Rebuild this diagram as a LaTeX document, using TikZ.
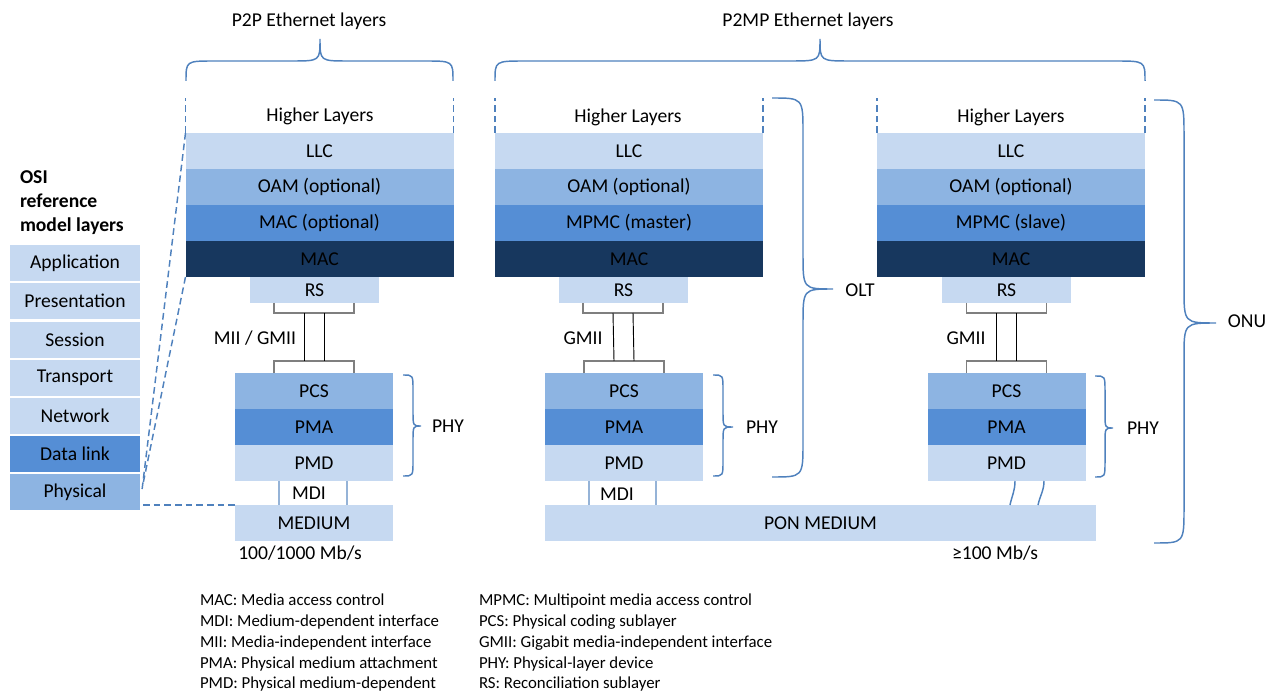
\documentclass[tikz,border=0pt]{standalone}
\usepackage{fontspec}
\setmainfont{Carlito}
\usetikzlibrary{calc}
\definecolor{lay1}{HTML}{C6D9F1}
\definecolor{lay2}{HTML}{8DB4E2}
\definecolor{lay3}{HTML}{558ED5}
\definecolor{lay4}{HTML}{17375E}
\definecolor{brc}{HTML}{4F81BD}
\definecolor{wir}{HTML}{7F7F7F}
\definecolor{mdiblue}{HTML}{95B3D7}
\tikzset{
  lay/.style={rectangle, inner sep=0pt, outer sep=0pt, minimum width=#1*0.75pt, minimum height=27pt},
  osi/.style={lay=132, minimum height=28.5pt, draw=white, line width=1pt},
  txt/.style={inner sep=0pt, outer sep=0pt},
  legend/.style={txt, anchor=north west, align=left, font=\fontsize{12.6}{15.6}\selectfont},
  brace/.style={draw=brc, line width=1.1pt},
  hdash/.style={draw=brc, line width=1.1pt, dash pattern=on 5pt off 3pt},
  wire/.style={draw=wir, line width=0.8pt},
  bus/.style={draw=black, line width=0.7pt},
  mdi/.style={draw=mdiblue, line width=1.4pt},
}
\begin{document}
\begin{tikzpicture}[x=0.75pt, y=-0.75pt, font=\fontsize{14.7}{18}\selectfont]
  \useasboundingbox (0,0) rectangle (1273,691);

  % OSI reference model
  \node[txt, anchor=north west, align=left, font=\fontsize{14.7}{18}\selectfont\bfseries] (osiT) at (20,171) {OSI\\reference\\model layers};
  \node[osi, fill=lay1] (osi1) at (75,263) {Application};
  \node[osi, fill=lay1] (osi2) at (75,301) {Presentation};
  \node[osi, fill=lay1] (osi3) at (75,340) {Session};
  \node[osi, fill=lay1] (osi4) at (75,378) {Transport};
  \node[osi, fill=lay1] (osi5) at (75,416) {Network};
  \node[osi, fill=lay3] (osi6) at (75,454) {Data link};
  \node[osi, fill=lay2] (osi7) at (75,492) {Physical};

  % P2P stack
  \node[txt] (topA) at (309,21) {P2P Ethernet layers};
  \node[txt] (hlA) at (320,116) {Higher Layers};
  \node[lay=268, fill=lay1] (llcA) at (319.5,151) {LLC};
  \node[lay=268, fill=lay2] (oamA) at (319.5,187) {OAM (optional)};
  \node[lay=268, fill=lay3] (mcoA) at (319.5,223) {MAC (optional)};
  \node[lay=268, fill=lay4] (macA) at (319.5,259) {MAC};
  \node[lay=129, fill=lay1, minimum height=19.5pt] (rsA) at (314.5,290) {RS};
  \node[txt] (giA) at (255,338) {MII / GMII};
  \node[lay=158, fill=lay2] (pcsA) at (314,391) {PCS};
  \node[lay=158, fill=lay3] (pmaA) at (314,427) {PMA};
  \node[lay=158, fill=lay1] (pmdA) at (314,463) {PMD};
  \node[txt] (phyA) at (448,426) {PHY};
  \node[txt] (mdiA) at (309,493) {MDI};
  \node[lay=158, fill=lay1] (medA) at (314,523) {MEDIUM};
  \node[txt] (rateA) at (300,553) {100/1000 Mb/s};

  % P2MP: OLT stack
  \node[txt] (topB) at (808,21) {P2MP Ethernet layers};
  \node[txt] (hlB) at (628,117) {Higher Layers};
  \node[lay=268, fill=lay1] (llcB) at (629,151) {LLC};
  \node[lay=268, fill=lay2] (oamB) at (629,187) {OAM (optional)};
  \node[lay=268, fill=lay3] (mpcB) at (629,223) {MPMC (master)};
  \node[lay=268, fill=lay4] (macB) at (629,259) {MAC};
  \node[lay=129, fill=lay1, minimum height=19.5pt] (rsB) at (623.5,290) {RS};
  \node[txt] (giB) at (583,338) {GMII};
  \node[lay=158, fill=lay2] (pcsB) at (624,391) {PCS};
  \node[lay=158, fill=lay3] (pmaB) at (624,427) {PMA};
  \node[lay=158, fill=lay1] (pmdB) at (624,463) {PMD};
  \node[txt] (phyB) at (762,427) {PHY};
  \node[txt] (mdiB) at (617,494) {MDI};
  \node[txt] (olt) at (860,290) {OLT};

  % P2MP: ONU stack
  \node[txt] (hlC) at (1011,117) {Higher Layers};
  \node[lay=268, fill=lay1] (llcC) at (1011,151) {LLC};
  \node[lay=268, fill=lay2] (oamC) at (1011,187) {OAM (optional)};
  \node[lay=268, fill=lay3] (mpcC) at (1011,223) {MPMC (slave)};
  \node[lay=268, fill=lay4] (macC) at (1011,259) {MAC};
  \node[lay=129, fill=lay1, minimum height=19.5pt] (rsC) at (1006.5,290) {RS};
  \node[txt] (giC) at (966,338) {GMII};
  \node[lay=158, fill=lay2] (pcsC) at (1006.5,391) {PCS};
  \node[lay=158, fill=lay3] (pmaC) at (1006.5,427) {PMA};
  \node[lay=158, fill=lay1] (pmdC) at (1006.5,463) {PMD};
  \node[txt] (phyC) at (1143,428) {PHY};
  \node[txt] (onu) at (1247,321) {ONU};

  \node[lay=551, fill=lay1] (pon) at (820.5,523) {PON MEDIUM};
  \node[txt] (rateB) at (995,553) {≥100 Mb/s};

  % legend
  \node[legend] (legL) at (200,594)
    {MAC: Media access control\\MDI: Medium-dependent interface\\MII: Media-independent interface\\PMA: Physical medium attachment\\PMD: Physical medium-dependent};
  \node[legend] (legR) at (479,594)
    {MPMC: Multipoint media access control\\PCS: Physical coding sublayer\\GMII: Gigabit media-independent interface\\PHY: Physical-layer device\\RS: Reconciliation sublayer};

  % higher layers
  \draw[hdash] (llcA.north west) -- ++(0,-35);
  \draw[hdash] (llcA.north east) -- ++(0,-35);
  \draw[hdash] (llcB.north west) -- ++(0,-35);
  \draw[hdash] (llcB.north east) -- ++(0,-35);
  \draw[hdash] (llcC.north west) -- ++(0,-35);
  \draw[hdash] (llcC.north east) -- ++(0,-35);

  % OSI mapping
  \draw[hdash] (llcA.north west) -- ($(osi7.north east)+(1,17)$);
  \draw[hdash] (macA.south west) -- ($(osi7.north east)+(2,11)$);
  \draw[hdash] ($(osi7.east |- medA.north)+(2,0)$) -- (medA.north west);

  % MII / GMII
  \draw[wire] ($(rsA.south)+(-40.5,0)$) -- ++(0,10) -- ++(80,0) -- ++(0,-10);
  \draw[wire] ($(pcsA.north)+(-40,0)$) -- ++(0,-12) -- ++(80,0) -- ++(0,12);
  \draw[bus] ($(rsA.south)+(-10.5,10)$) -- ($(pcsA.north)+(-10,-12)$);
  \draw[bus] ($(rsA.south)+(9.5,10)$) -- ($(pcsA.north)+(10,-12)$);
  \draw[wire] ($(rsB.south)+(-40.5,0)$) -- ++(0,10) -- ++(80,0) -- ++(0,-10);
  \draw[wire] ($(pcsB.north)+(-40,0)$) -- ++(0,-12) -- ++(80,0) -- ++(0,12);
  \draw[bus] ($(rsB.south)+(-10.5,10)$) -- ($(pcsB.north)+(-10,-12)$);
  \draw[bus] ($(rsB.south)+(9.5,10)$) -- ($(pcsB.north)+(10,-12)$);
  \draw[wire] ($(rsC.south)+(-40,0)$) -- ++(0,10) -- ++(80,0) -- ++(0,-10);
  \draw[wire] ($(pcsC.north)+(-40,0)$) -- ++(0,-12) -- ++(80,0) -- ++(0,12);
  \draw[bus] ($(rsC.south)+(-10,10)$) -- ($(pcsC.north)+(-10,-12)$);
  \draw[bus] ($(rsC.south)+(10,10)$) -- ($(pcsC.north)+(10,-12)$);

  % MDI
  \draw[mdi] ($(pmdA.south)+(-35,0)$) -- ($(pmdA.south |- medA.north)+(-35,0)$);
  \draw[mdi] ($(pmdA.south)+(33,0)$) -- ($(pmdA.south |- medA.north)+(33,0)$);
  \draw[mdi] ($(pmdB.south)+(-35,0)$) -- ($(pmdB.south |- pon.north)+(-35,0)$);
  \draw[mdi] ($(pmdB.south)+(32,0)$) -- ($(pmdB.south |- pon.north)+(32,0)$);
  \draw[brace] ($(pmdC.south)+(8.5,0)$) to[out=-90, in=78] ($(pmdC.south |- pon.north)+(3.5,0)$);
  \draw[brace] ($(pmdC.south)+(37.5,0)$) to[out=-90, in=78] ($(pmdC.south |- pon.north)+(31.5,0)$);

  % braces
  \draw[brace] (186,81) .. controls (186,61) .. (214,61) -- (292,61) .. controls (320,61) .. (320,39)
    .. controls (320,61) .. (348,61) -- (425,61) .. controls (453,61) .. (453,81);
  \draw[brace] (495,81) .. controls (495,61) .. (525,61) -- (790,61) .. controls (820,61) .. (820,39)
    .. controls (820,61) .. (850,61) -- (1115,61) .. controls (1145,61) .. (1145,81);
  \draw[brace] (772,98) .. controls (803,98) .. (803,133) -- (803,254) .. controls (803,289) .. (833,289)
    .. controls (803,289) .. (803,324) -- (803,442) .. controls (803,477) .. (772,477);
  \draw[brace] (1154,100) .. controls (1184,100) .. (1184,135) -- (1184,288) .. controls (1184,323) .. (1216,323)
    .. controls (1184,323) .. (1184,358) -- (1184,508) .. controls (1184,543) .. (1154,543);
  \draw[brace] (403,375) .. controls (413,375) .. (413,390) -- (413,411) .. controls (413,426) .. (421,426)
    .. controls (413,426) .. (413,441) -- (413,461) .. controls (413,476) .. (403,476);
  \draw[brace] (713,375) .. controls (723,375) .. (723,390) -- (723,412) .. controls (723,427) .. (733,427)
    .. controls (723,427) .. (723,442) -- (723,461) .. controls (723,476) .. (713,476);
  \draw[brace] (1095,376) .. controls (1105,376) .. (1105,391) -- (1105,413) .. controls (1105,428) .. (1113,428)
    .. controls (1105,428) .. (1105,443) -- (1105,462) .. controls (1105,477) .. (1095,477);
\end{tikzpicture}
\end{document}
